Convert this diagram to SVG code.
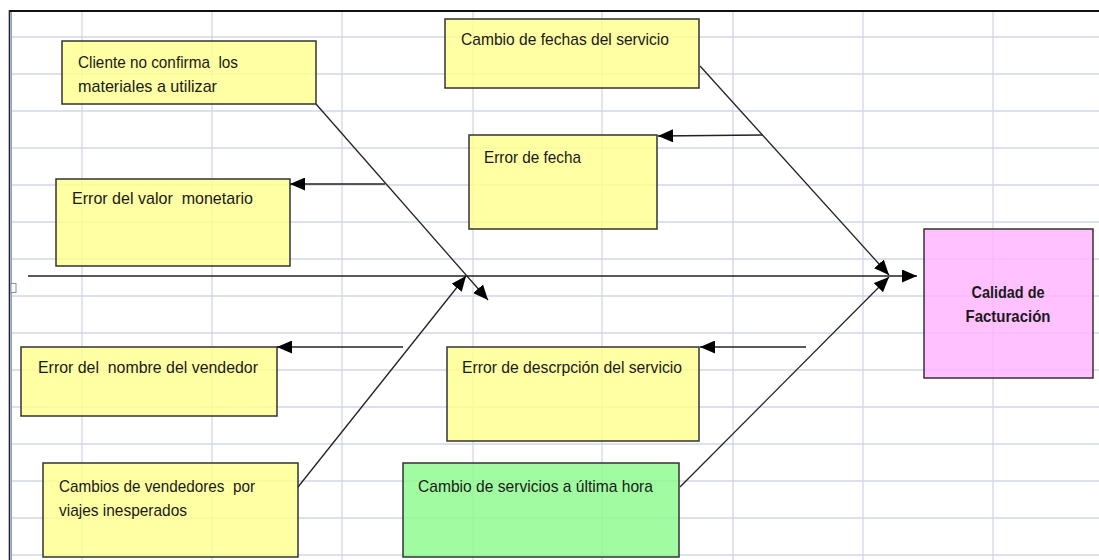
<svg xmlns="http://www.w3.org/2000/svg" width="1099" height="560" viewBox="0 0 1099 560">
<style>
.grid line{stroke:#D0D7E5;stroke-width:1.3}
.box{stroke:#333;stroke-width:1.5;fill-opacity:0.82}
.yellow{fill:#FFFF8F}
.pink{fill:#FFB3FF}
.green{fill:#8CFA8C}
.t{font-family:"Liberation Sans",Arial,sans-serif;font-size:17px;fill:#1a1a1a;white-space:pre}
.tb{font-family:"Liberation Sans",Arial,sans-serif;font-size:17px;font-weight:bold;fill:#1a1a1a}
.conn line{stroke:#222;stroke-width:1.3;fill:none}
</style>
<defs>
<marker id="ah" markerUnits="userSpaceOnUse" markerWidth="16" markerHeight="13" refX="15" refY="6.5" orient="auto">
<path d="M0,0 L15,6.5 L0,13 z" fill="#000"/>
</marker>
</defs>
<rect width="1099" height="560" fill="#fff"/>
<g class="grid">
<line x1="82" y1="11" x2="82" y2="560"/>
<line x1="212" y1="11" x2="212" y2="560"/>
<line x1="342" y1="11" x2="342" y2="560"/>
<line x1="473" y1="11" x2="473" y2="560"/>
<line x1="602" y1="11" x2="602" y2="560"/>
<line x1="733" y1="11" x2="733" y2="560"/>
<line x1="863" y1="11" x2="863" y2="560"/>
<line x1="993" y1="11" x2="993" y2="560"/>
<line x1="11" y1="37" x2="1099" y2="37"/>
<line x1="11" y1="74" x2="1099" y2="74"/>
<line x1="11" y1="111" x2="1099" y2="111"/>
<line x1="11" y1="148" x2="1099" y2="148"/>
<line x1="11" y1="185" x2="1099" y2="185"/>
<line x1="11" y1="222" x2="1099" y2="222"/>
<line x1="11" y1="259" x2="1099" y2="259"/>
<line x1="11" y1="296" x2="1099" y2="296"/>
<line x1="11" y1="333" x2="1099" y2="333"/>
<line x1="11" y1="370" x2="1099" y2="370"/>
<line x1="11" y1="407" x2="1099" y2="407"/>
<line x1="11" y1="444" x2="1099" y2="444"/>
<line x1="11" y1="481" x2="1099" y2="481"/>
<line x1="11" y1="518" x2="1099" y2="518"/>
<line x1="11" y1="555" x2="1099" y2="555"/>
</g>
<g id="frame">
<line x1="9" y1="11" x2="1099" y2="11" stroke="#111" stroke-width="2"/>
<line x1="9.5" y1="10" x2="9.5" y2="560" stroke="#222" stroke-width="1.6"/>
<line x1="11.3" y1="12" x2="11.3" y2="560" stroke="#8FA4C4" stroke-width="1.4"/>
<rect x="11" y="283.5" width="5" height="9" fill="#fff" stroke="#6E93C8" stroke-width="1"/>
</g>
<g id="n-cliente">
<rect class="box yellow" x="62" y="41" width="254" height="63"/>
<text class="t" x="78" y="68" textLength="160" lengthAdjust="spacingAndGlyphs" xml:space="preserve">Cliente no confirma  los</text>
<text class="t" x="78" y="92" textLength="139" lengthAdjust="spacingAndGlyphs">materiales a utilizar</text>
</g>
<g id="n-cambio-fechas">
<rect class="box yellow" x="445" y="19" width="254" height="69"/>
<text class="t" x="461" y="45" textLength="208" lengthAdjust="spacingAndGlyphs">Cambio de fechas del servicio</text>
</g>
<g id="n-error-fecha">
<rect class="box yellow" x="469" y="135" width="188" height="94"/>
<text class="t" x="484" y="163" textLength="97" lengthAdjust="spacingAndGlyphs">Error de fecha</text>
</g>
<g id="n-error-valor">
<rect class="box yellow" x="56" y="179" width="234" height="87"/>
<text class="t" x="72" y="204" textLength="181" lengthAdjust="spacingAndGlyphs" xml:space="preserve">Error del valor  monetario</text>
</g>
<g id="n-error-nombre">
<rect class="box yellow" x="21" y="347" width="256" height="69"/>
<text class="t" x="38" y="373" textLength="220" lengthAdjust="spacingAndGlyphs" xml:space="preserve">Error del  nombre del vendedor</text>
</g>
<g id="n-error-descripcion">
<rect class="box yellow" x="447" y="347" width="252" height="94"/>
<text class="t" x="462" y="373" textLength="220" lengthAdjust="spacingAndGlyphs">Error de descrpción del servicio</text>
</g>
<g id="n-cambios-vendedores">
<rect class="box yellow" x="43" y="463" width="255" height="94"/>
<text class="t" x="59" y="492" textLength="196" lengthAdjust="spacingAndGlyphs" xml:space="preserve">Cambios de vendedores  por</text>
<text class="t" x="59" y="516" textLength="128" lengthAdjust="spacingAndGlyphs">viajes inesperados</text>
</g>
<g id="n-cambio-servicios">
<rect class="box green" x="403" y="463" width="276" height="94"/>
<text class="t" x="418" y="492" textLength="235" lengthAdjust="spacingAndGlyphs">Cambio de servicios a última hora</text>
</g>
<g id="n-calidad">
<rect class="box pink" x="924" y="229" width="169" height="149"/>
<text class="tb" x="1008" y="298" text-anchor="middle" textLength="73" lengthAdjust="spacingAndGlyphs">Calidad de</text>
<text class="tb" x="1008" y="322" text-anchor="middle" textLength="85" lengthAdjust="spacingAndGlyphs">Facturación</text>
</g>
<g class="conn" id="connectors">
<line x1="28" y1="276" x2="917" y2="276" marker-end="url(#ah)"/>
<line x1="316" y1="104" x2="488" y2="300" marker-end="url(#ah)"/>
<line x1="298" y1="487" x2="466" y2="276" marker-end="url(#ah)"/>
<line x1="700" y1="66" x2="889" y2="275" marker-end="url(#ah)"/>
<line x1="680" y1="487" x2="889" y2="277" marker-end="url(#ah)"/>
<line x1="385" y1="184" x2="290" y2="184" marker-end="url(#ah)"/>
<line x1="762" y1="135" x2="658" y2="136" marker-end="url(#ah)"/>
<line x1="403" y1="347" x2="277" y2="347" marker-end="url(#ah)"/>
<line x1="806" y1="347" x2="700" y2="347" marker-end="url(#ah)"/>
</g>
</svg>
